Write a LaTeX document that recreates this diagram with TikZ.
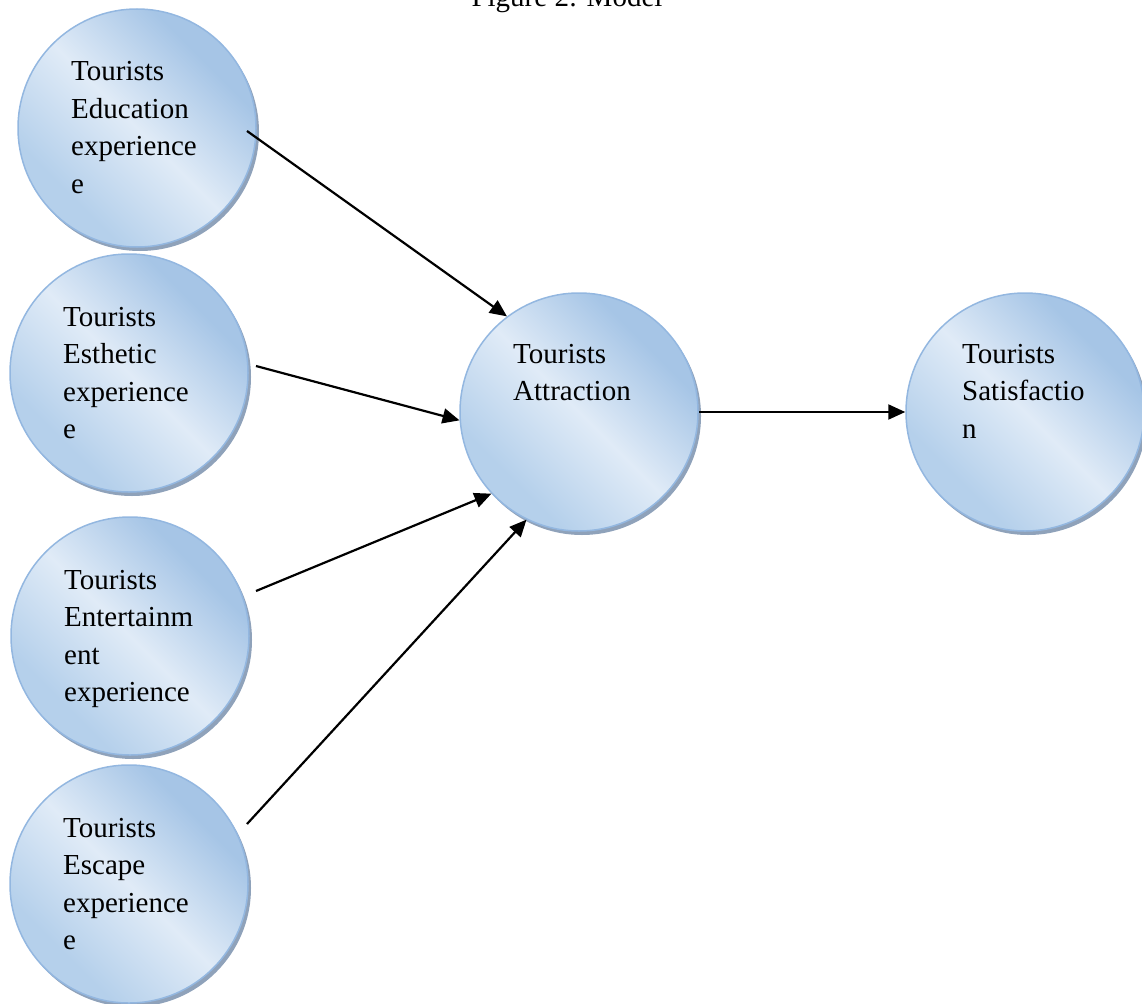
\documentclass[tikz,border=0pt]{standalone}
\usepackage{fontspec}
\setmainfont{Liberation Serif}
\usetikzlibrary{arrows.meta,shadows}
\definecolor{bdark}{HTML}{A6C5E6}
\definecolor{bdarktwo}{HTML}{B5D0EB}
\definecolor{blight}{HTML}{E0EBF7}
\definecolor{bline}{HTML}{93B7E0}
\definecolor{bshadow}{HTML}{8398B3}
\pgfdeclarehorizontalshading{bubbleshade}{100bp}{color(0bp)=(bdarktwo); color(30bp)=(bdarktwo); color(50bp)=(blight); color(70bp)=(bdark); color(100bp)=(bdark)}
\newcommand\stackedlines[1]{\vtop{#1}}
\begin{document}
\begin{tikzpicture}[x=1pt,y=-1pt,
  ball/.style={circle, minimum size=238pt, inner sep=0pt, draw=bline, line width=1.5pt,
    shading=bubbleshade, shading angle=45,
    drop shadow={shadow xshift=3pt, shadow yshift=-4pt, fill=bshadow, opacity=0.9}},
  lbl/.style={anchor=base west, inner sep=0pt, font=\fontsize{29}{37.5}\selectfont},
  arr/.style={line width=2.2pt, -{Triangle[length=17pt,width=15pt]}}
]
\path[use as bounding box, clip] (0,0) rectangle (1142,1003);

\node[anchor=base, inner sep=0pt, font=\fontsize{29}{35}\selectfont] (title) at (567,7) {Figure 2: Model};

\node[ball] (edu) at (137,128) {};
\node[ball] (est) at (129,373) {};
\node[ball] (ent) at (130,636) {};
\node[ball] (esc) at (129,884) {};
\node[ball] (att) at (579,412) {};
\node[ball] (sat) at (1025,412) {};

\node[lbl] (tedu) at ([shift={(-66,-47)}]edu.center) {\stackedlines{\hbox{Tourists}\hbox{Education}\hbox{experience}\hbox{e}}};
\node[lbl] (test) at ([shift={(-66,-47)}]est.center) {\stackedlines{\hbox{Tourists}\hbox{Esthetic}\hbox{experience}\hbox{e}}};
\node[lbl] (tent) at ([shift={(-66,-47)}]ent.center) {\stackedlines{\hbox{Tourists}\hbox{Entertainm}\hbox{ent}\hbox{experience}}};
\node[lbl] (tesc) at ([shift={(-66,-47)}]esc.center) {\stackedlines{\hbox{Tourists}\hbox{Escape}\hbox{experience}\hbox{e}}};
\node[lbl] (tatt) at ([shift={(-66,-49)}]att.center) {\stackedlines{\hbox{Tourists}\hbox{Attraction}}};
\node[lbl] (tsat) at ([shift={(-63,-49)}]sat.center) {\stackedlines{\hbox{Tourists}\hbox{Satisfactio}\hbox{n}}};

\coordinate (s1) at (247,131);
\coordinate (s2) at (256,366);
\coordinate (s3) at (256,591);
\coordinate (s4) at (247,824);

\draw[arr] (s1) -- (att.127);
\draw[arr] (s2) -- (att.184);
\draw[arr] (s3) -- (att.223);
\draw[arr] (s4) -- (att.244);
\draw[arr] (att.east) -- (sat.west);
\end{tikzpicture}
\end{document}
